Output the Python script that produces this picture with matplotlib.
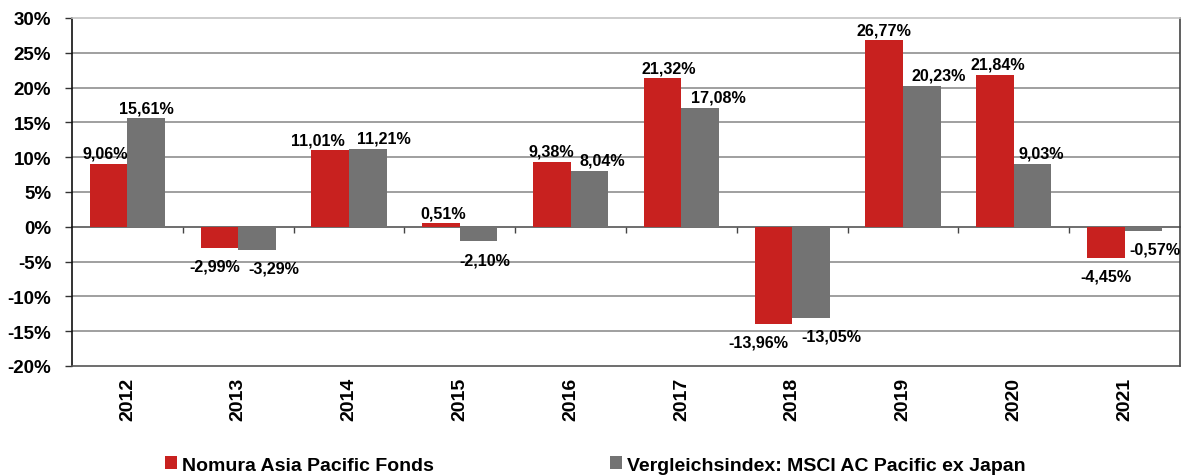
import matplotlib
matplotlib.use('Agg')
import matplotlib.pyplot as plt
import numpy as np
from matplotlib.ticker import FuncFormatter
from matplotlib.patches import Patch

# ---------------- data ----------------
years = ['2012', '2013', '2014', '2015', '2016', '2017', '2018', '2019', '2020', '2021']
fund = [9.06, -2.99, 11.01, 0.51, 9.38, 21.32, -13.96, 26.77, 21.84, -4.45]
bench = [15.61, -3.29, 11.21, -2.10, 8.04, 17.08, -13.05, 20.23, 9.03, -0.57]
fund_name = 'Nomura Asia Pacific Fonds'
bench_name = 'Vergleichsindex: MSCI AC Pacific ex Japan'
yticks = [-20, -15, -10, -5, 0, 5, 10, 15, 20, 25, 30]

# ---------------- style ----------------
RED = '#C8211F'
GRAY = '#737373'
# horizontal label nudges (pixels) to mimic the reference label placement
fund_dx = [-3, -5, -12, 2, 0, 6, -15, 0, 3, 0]
bench_dx = [0, 17, 16, 6, 13, 18, 20, 17, 9, 12]

plt.rcParams['font.family'] = ['Liberation Sans', 'DejaVu Sans']
plt.rcParams['font.weight'] = 'bold'

fig = plt.figure(figsize=(11.92, 4.77), dpi=100)
ax = fig.add_axes([72 / 1192, 1 - 367 / 477, (1180 - 72) / 1192, (367 - 19) / 477])

x = np.arange(len(years))
w = 0.34
ax.bar(x - w / 2, fund, width=w, color=RED, zorder=3, edgecolor='none')
ax.bar(x + w / 2, bench, width=w, color=GRAY, zorder=3, edgecolor='none')

ax.set_xlim(-0.5, len(years) - 0.5)
ax.set_ylim(yticks[0], yticks[-1])
ax.set_yticks(yticks)
ax.yaxis.set_major_formatter(FuncFormatter(lambda v, p: f'{int(round(v))}%'))
ax.tick_params(axis='y', length=5, width=1, color='#333333', labelsize=13.5, pad=10)
for t in ax.get_yticklabels():
    t.set_fontweight('bold')

ax.set_xticks(x)
ax.set_xticklabels(years, rotation=90, fontsize=14, fontweight='bold')
ax.tick_params(axis='x', length=0, pad=8)

# gridlines
for yv in yticks[1:-1]:
    if yv == 0:
        continue
    ax.axhline(yv, color='#8f8f8f', lw=1.2, zorder=1)

ax.spines['left'].set_color('#111111')
ax.spines['left'].set_linewidth(1.2)
ax.spines['right'].set_color('#444444')
ax.spines['right'].set_linewidth(1.2)
ax.spines['bottom'].set_color('#555555')
ax.spines['bottom'].set_linewidth(1.2)
ax.spines['top'].set_color('#c4c4c4')
ax.spines['top'].set_linewidth(1.2)

# zero line with category-boundary ticks
zero_frac = (0 - yticks[0]) / (yticks[-1] - yticks[0])
sec = ax.secondary_xaxis(zero_frac)
sec.set_xticks(x[:-1] + 0.5)
sec.set_xticklabels([])
sec.tick_params(axis='x', direction='out', length=4, width=1, color='#444444')
sec.spines['bottom'].set_color('#555555')
sec.spines['bottom'].set_linewidth(1.2)
sec.spines['bottom'].set_zorder(4)


def fmt(v):
    return f'{v:.2f}'.replace('.', ',') + '%'


px = 0.72


def label(xs, vals, dxs):
    for xi, v, dx in zip(xs, vals, dxs):
        if v >= 0:
            ax.annotate(fmt(v), xy=(xi, v), xytext=(dx * px, 6 * px), textcoords='offset points',
                        ha='center', va='baseline', fontsize=11.6, fontweight='bold', zorder=5)
        else:
            ax.annotate(fmt(v), xy=(xi, v), xytext=(dx * px, -11 * px), textcoords='offset points',
                        ha='center', va='top', fontsize=11.6, fontweight='bold', zorder=5)


label(x - w / 2, fund, fund_dx)
label(x + w / 2, bench, bench_dx)

handles = [Patch(facecolor=RED, edgecolor='none', label=fund_name),
           Patch(facecolor=GRAY, edgecolor='none', label=bench_name)]
fig.legend(handles=handles, loc='center left', bbox_to_anchor=(165 / 1192, 1 - 466 / 477),
           ncol=2, frameon=False, handlelength=0.6, handleheight=0.62,
           handletextpad=0.25, columnspacing=9.1, borderpad=0, borderaxespad=0,
           prop={'weight': 'bold', 'size': 14})

fig.savefig('out.png', dpi=100)
